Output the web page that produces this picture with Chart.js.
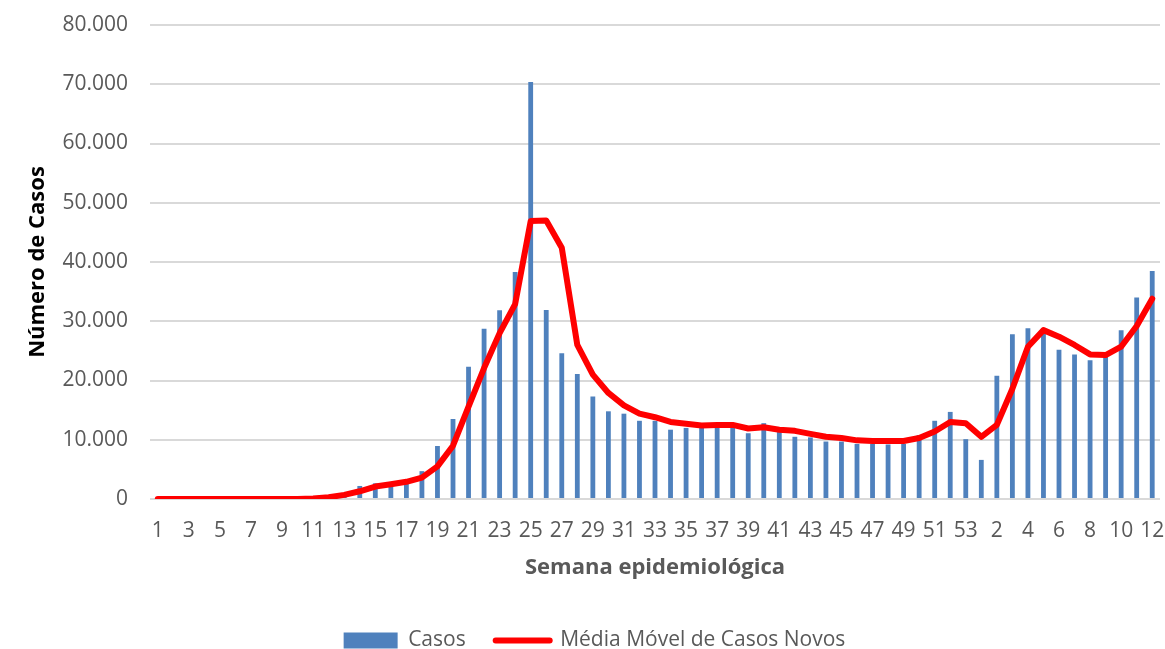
<!DOCTYPE html>
<html>
<head>
<meta charset="utf-8">
<script src="https://cdn.jsdelivr.net/npm/chart.js@4.4.1/dist/chart.umd.min.js"></script>
<style>
  html, body { margin: 0; padding: 0; background: #fff; }
  #wrap { width: 1165px; height: 649px; }
</style>
</head>
<body>
<div id="wrap"><canvas id="casosChart"></canvas></div>
<script>
// semanas epidemiológicas (53 de um ano + 12 do seguinte)
const semanas = [
  '1','2','3','4','5','6','7','8','9','10','11','12','13','14','15','16','17','18','19','20',
  '21','22','23','24','25','26','27','28','29','30','31','32','33','34','35','36','37','38','39','40',
  '41','42','43','44','45','46','47','48','49','50','51','52','53',
  '1','2','3','4','5','6','7','8','9','10','11','12'
];

const casos = [
  0, 0, 0, 0, 0, 0, 0, 0, 0, 0, 50, 200, 1000, 2200, 2650, 2300, 2650, 4700, 8950, 13500,
  22300, 28750, 31850, 38300, 70400, 31900, 24600, 21100, 17300, 14800, 14400, 13200, 13200, 11700, 12000, 12000, 12000, 12000, 11100, 12800,
  11600, 10500, 10400, 9700, 9700, 9300, 9300, 9200, 9300, 10800, 13200, 14700, 10100,
  6600, 20800, 27800, 28800, 27900, 25200, 24400, 23400, 24800, 28500, 34000, 38500
];

const mediaMovel = [
  0, 0, 0, 0, 0, 0, 0, 0, 0, 0, 100, 300, 700, 1300, 2100, 2500, 2900, 3600, 5500, 9000,
  15600, 22100, 28000, 32900, 46900, 47000, 42400, 26000, 21000, 17900, 15800, 14400, 13800, 13000, 12700, 12400, 12500, 12500, 11900, 12100,
  11700, 11500, 11000, 10500, 10300, 9900, 9800, 9800, 9800, 10300, 11400, 13000, 12800,
  10500, 12500, 18600, 25700, 28500, 27400, 26000, 24400, 24300, 25700, 29200, 33800
];

const yMax = 80000;
const yStep = 10000;

function formatoMilhar(v) {
  return String(v).replace(/\B(?=(\d{3})+(?!\d))/g, '.');
}

const fonte = "'Open Sans', 'Noto Sans', sans-serif";
const cinza = '#595959';

// legenda com espaço largo entre itens mas altura curta
const ajusteLegenda = {
  id: 'ajusteLegenda',
  beforeLayout(chart) {
    const lg = chart.legend;
    if (lg && !lg._ajustado) {
      const fitOrig = lg.fit.bind(lg);
      lg.fit = function () {
        fitOrig();
        this.height = 49;
        if (this.lineWidths && this.lineWidths.length) this.lineWidths[0] -= 24;
      };
      lg._ajustado = true;
    }
  }
};

const ctx = document.getElementById('casosChart').getContext('2d');

new Chart(ctx, {
  data: {
    labels: semanas,
    datasets: [
      {
        type: 'line',
        label: 'Média Móvel de Casos Novos',
        data: mediaMovel,
        borderColor: '#FF0000',
        backgroundColor: '#FF0000',
        borderWidth: 6,
        tension: 0,
        pointRadius: 0,
        pointHoverRadius: 0,
        borderJoinStyle: 'round',
        borderCapStyle: 'round',
        order: 0
      },
      {
        type: 'bar',
        label: 'Casos',
        data: casos,
        backgroundColor: '#4F81BD',
        borderWidth: 0,
        barPercentage: 0.31,
        categoryPercentage: 1.0,
        order: 1
      }
    ]
  },
  plugins: [ajusteLegenda],
  options: {
    responsive: true,
    maintainAspectRatio: false,
    animation: false,
    layout: { padding: { left: 0, right: 0, top: 0, bottom: 0 } },
    plugins: {
      tooltip: { enabled: false },
      legend: {
        position: 'bottom',
        reverse: true,
        labels: {
          font: { family: fonte, size: 21 },
          color: cinza,
          usePointStyle: true,
          pointStyleWidth: 54,
          boxHeight: 16,
          padding: 30,
          generateLabels: function (chart) {
            const items = Chart.defaults.plugins.legend.labels.generateLabels(chart);
            items.forEach(function (it) {
              const ds = chart.data.datasets[it.datasetIndex];
              it.pointStyle = ds.type === 'line' ? 'line' : 'rect';
              if (ds.type === 'line') { it.lineWidth = 6; it.lineCap = 'round'; }
            });
            return items;
          }
        }
      }
    },
    scales: {
      x: {
        grid: { display: false, drawTicks: false },
        border: { display: false },
        ticks: {
          autoSkip: false,
          maxRotation: 0,
          minRotation: 0,
          padding: 19,
          color: cinza,
          font: { family: fonte, size: 21 },
          callback: function (val, idx) {
            return idx % 2 === 0 ? semanas[idx] : '';
          }
        },
        title: {
          display: true,
          text: 'Semana epidemiológica',
          color: cinza,
          font: { family: fonte, size: 22, weight: 'bold' },
          padding: { top: 0, bottom: 19 }
        },
        afterFit: function (scale) {
          scale.height = 101;
          scale.paddingLeft = 0;
          scale.paddingRight = 5;
        }
      },
      y: {
        min: 0,
        max: yMax,
        grid: { color: '#D9D9D9', lineWidth: 2, drawTicks: false },
        border: { display: false },
        ticks: {
          stepSize: yStep,
          padding: 22,
          color: cinza,
          font: { family: fonte, size: 21 },
          callback: function (v) { return formatoMilhar(v); }
        },
        title: {
          display: true,
          text: 'Número de Casos',
          color: '#000000',
          font: { family: fonte, size: 22, weight: 'bold' },
          padding: { top: 25, bottom: 0 }
        },
        afterFit: function (scale) {
          scale.width = 150;
          scale.paddingTop = 25;
          scale.paddingBottom = 0;
        }
      }
    }
  }
});
</script>
</body>
</html>
